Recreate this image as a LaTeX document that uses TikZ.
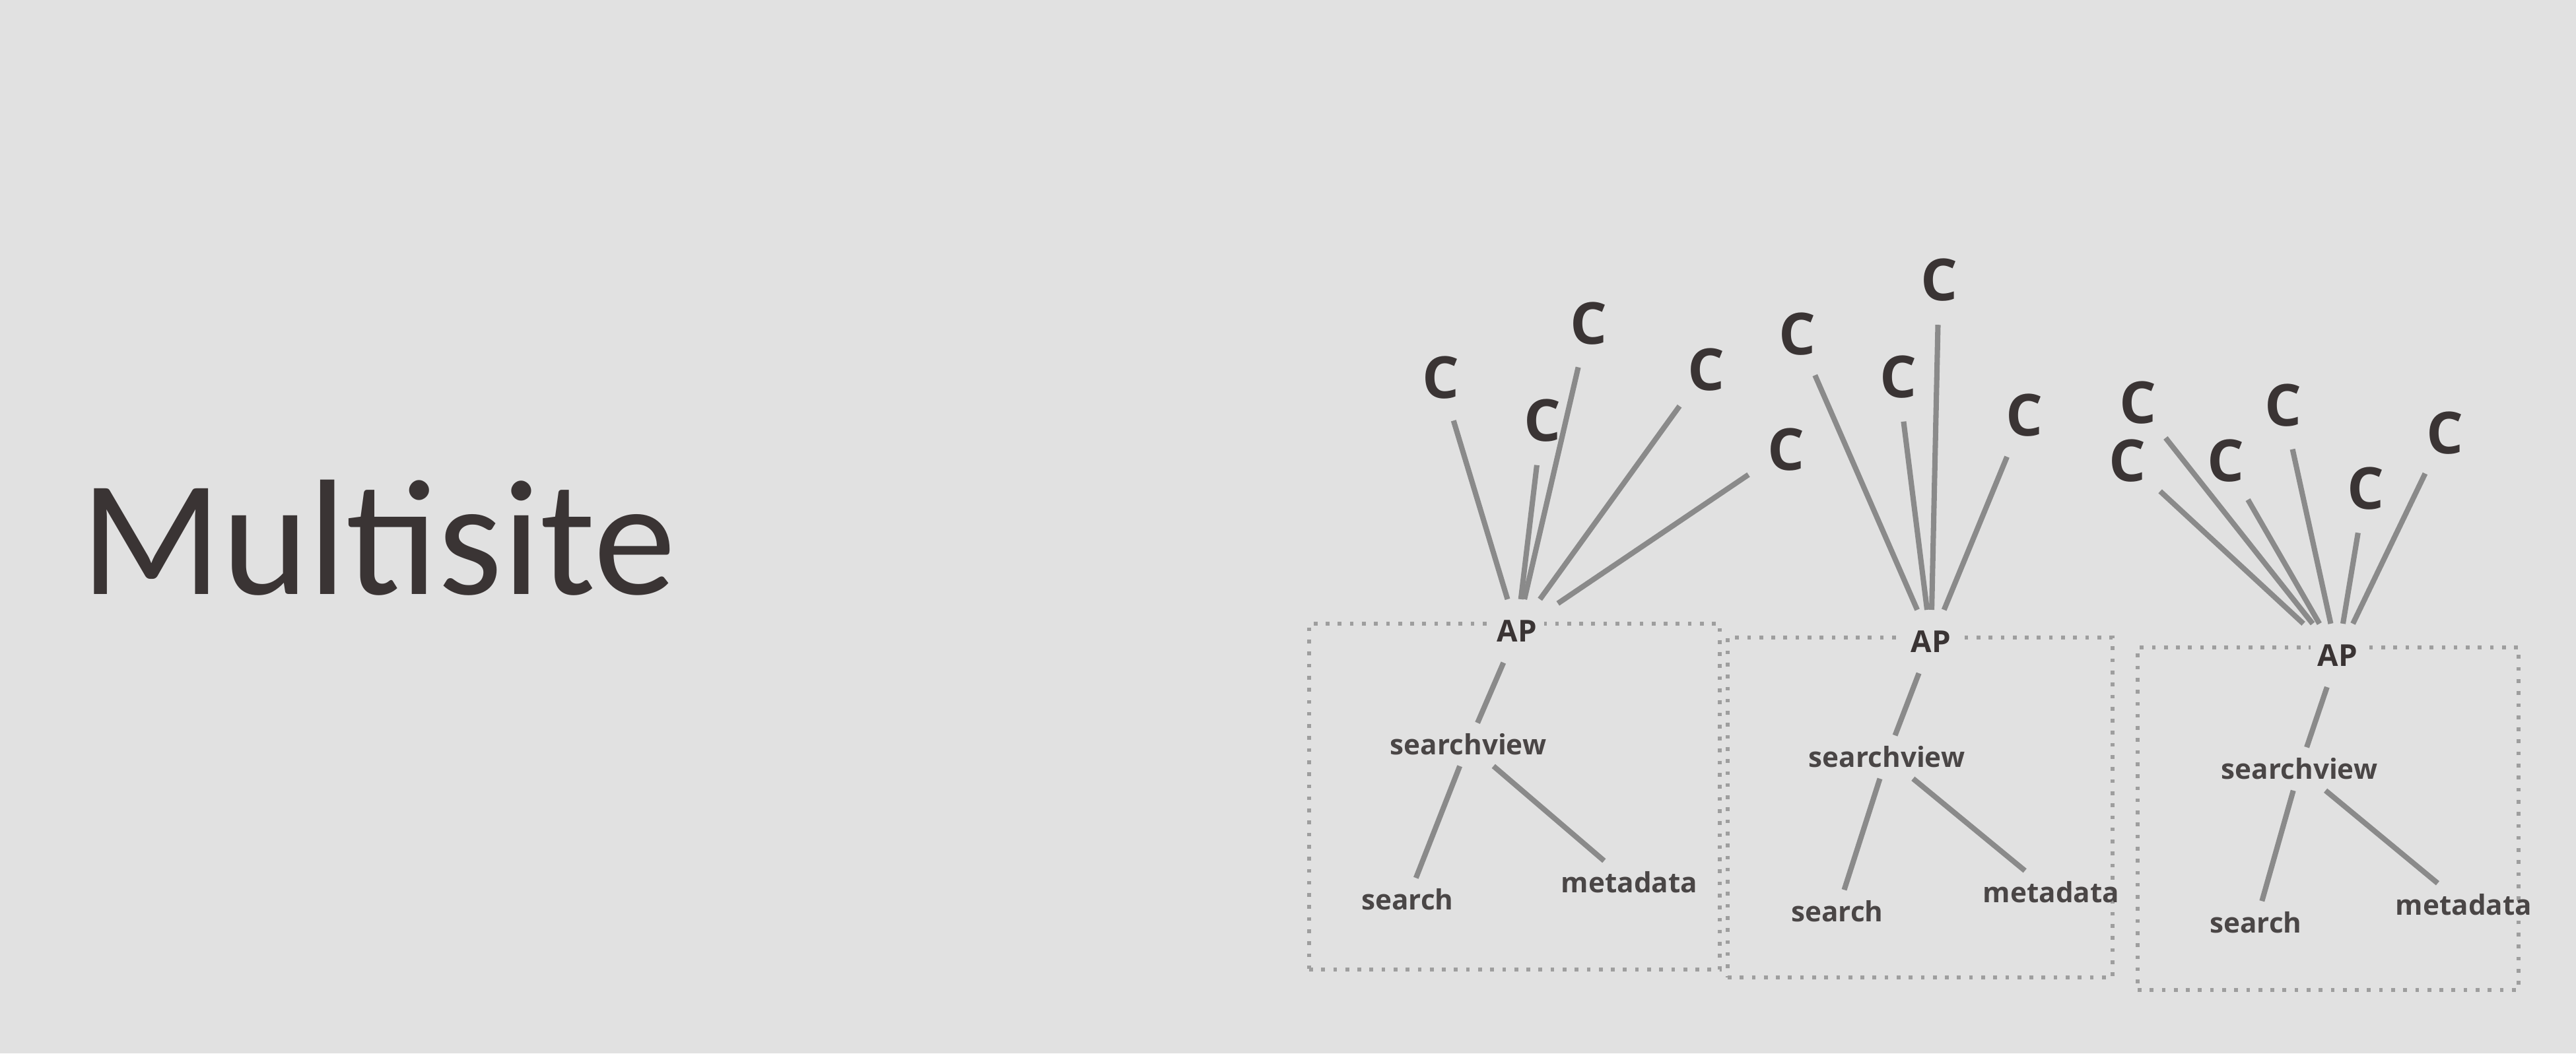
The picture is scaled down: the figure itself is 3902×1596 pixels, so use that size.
\documentclass[tikz,border=0pt]{standalone}
\usepackage{fontspec}
\setmainfont{Carlito}
\newfontfamily\diafont{Open Sans}
\usepackage{xcolor}
\usepackage{tikz}
\usetikzlibrary{positioning,fit}

\definecolor{bg}{RGB}{225,225,225}
\definecolor{ink}{RGB}{58,52,52}
\definecolor{labelink}{RGB}{74,70,70}
\definecolor{linegray}{RGB}{138,138,138}
\definecolor{dotgray}{RGB}{158,158,158}

\begin{document}
\begin{tikzpicture}[
        x=0.01cm, y=-0.01cm,
        client/.style={circle, inner sep=5pt, text=ink, font=\diafont\bfseries\fontsize{25}{29}\selectfont},
        apnode/.style={fill=bg, inner sep=3pt, outer sep=6pt, text=ink, font=\diafont\bfseries\fontsize{13}{15}\selectfont},
        svc/.style={inner sep=4.5pt, text=labelink, font=\diafont\bfseries\fontsize{12}{14}\selectfont},
        link/.style={draw=linegray, line width=2.3pt},
        sitebox/.style={draw=dotgray, line width=1.6pt, dash pattern=on 1.6pt off 3.6pt, inner sep=0pt}
    ]

    % 背景
    \fill[bg] (0,0) rectangle (3902,1596);
    \useasboundingbox (0,0) rectangle (3902,1596);

    % 标题
    \node[anchor=base west, inner sep=0pt, text=ink, font=\fontsize{71}{80}\selectfont] (title) at (122,900) {Multisite};

    % 站点框
    \node[sitebox, fit={(1983,945) (2605,1469)}] (site1) {};
    \node[sitebox, fit={(2617,966) (3200,1481)}] (site2) {};
    \node[sitebox, fit={(3238,981) (3815,1500)}] (site3) {};

    % 站点一
    \node[apnode] (ap1) at (2298,956) {AP};
    \node[svc] (sv1) at (2224,1128) {searchview};
    \node[svc] (search1) at (2132,1363) {search};
    \node[svc] (meta1) at (2468,1337) {metadata};
    \node[client] (c11) at (2182,572) {C};
    \node[client] (c12) at (2406,490) {C};
    \node[client] (c13) at (2336,637) {C};
    \node[client] (c14) at (2584,560) {C};
    \node[client] (c15) at (2705,681) {C};

    % 站点二
    \node[apnode] (ap2) at (2925,972) {AP};
    \node[svc] (sv2) at (2858,1147) {searchview};
    \node[svc] (search2) at (2783,1381) {search};
    \node[svc] (meta2) at (3107,1352) {metadata};
    \node[client] (c21) at (2722,506) {C};
    \node[client] (c22) at (2937,424) {C};
    \node[client] (c23) at (2875,571) {C};
    \node[client] (c24) at (3066,629) {C};

    % 站点三
    \node[apnode] (ap3) at (3541,993) {AP};
    \node[svc] (sv3) at (3483,1165) {searchview};
    \node[svc] (search3) at (3417,1398) {search};
    \node[svc] (meta3) at (3732,1371) {metadata};
    \node[client] (c31) at (3238,610) {C};
    \node[client] (c32) at (3222,698) {C};
    \node[client] (c33) at (3371,698) {C};
    \node[client] (c34) at (3458,614) {C};
    \node[client] (c35) at (3583,740) {C};
    \node[client] (c36) at (3703,656) {C};

    % 连接
    \draw[link] (c11) -- (ap1);
    \draw[link] (c12) -- (ap1);
    \draw[link] (c13) -- (ap1);
    \draw[link] (c14) -- (ap1);
    \draw[link] (c15) -- (ap1);
    \draw[link] (ap1) -- (sv1);
    \draw[link] (sv1) -- (search1);
    \draw[link] (sv1) -- (meta1);

    \draw[link] (c21) -- (ap2);
    \draw[link] (c22) -- (ap2);
    \draw[link] (c23) -- (ap2);
    \draw[link] (c24) -- (ap2);
    \draw[link] (ap2) -- (sv2);
    \draw[link] (sv2) -- (search2);
    \draw[link] (sv2) -- (meta2);

    \draw[link] (c31) -- (ap3);
    \draw[link] (c32) -- (ap3);
    \draw[link] (c33) -- (ap3);
    \draw[link] (c34) -- (ap3);
    \draw[link] (c35) -- (ap3);
    \draw[link] (c36) -- (ap3);
    \draw[link] (ap3) -- (sv3);
    \draw[link] (sv3) -- (search3);
    \draw[link] (sv3) -- (meta3);

\end{tikzpicture}
\end{document}
